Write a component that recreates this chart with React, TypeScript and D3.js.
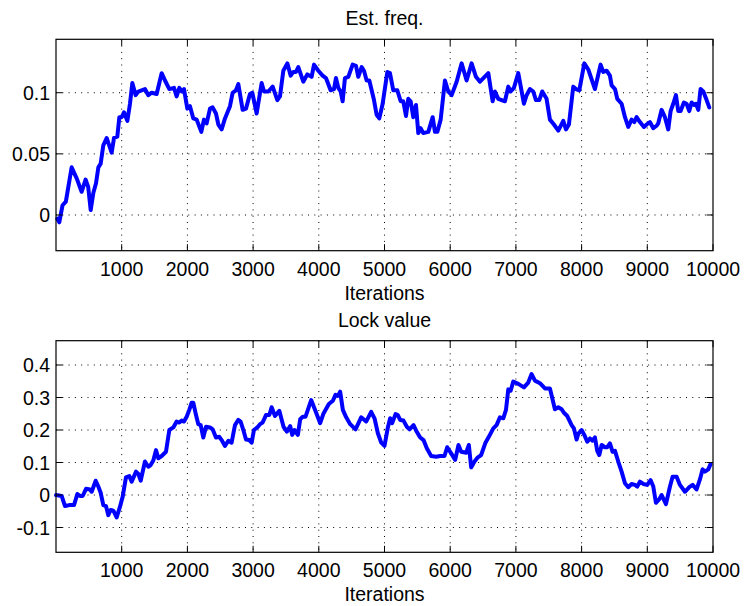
import React from "react";
import * as d3 from "d3";

const xTicks = [1000, 2000, 3000, 4000, 5000, 6000, 7000, 8000, 9000, 10000];
const freqTicks = [0, 0.05, 0.1];
const freqTickLabels = ["0", "0.05", "0.1"];
const lockTicks = [-0.1, 0, 0.1, 0.2, 0.3, 0.4];
const lockTickLabels = ["-0.1", "0", "0.1", "0.2", "0.3", "0.4"];

const freqIter = [
  20, 50, 100, 150, 238, 315, 390, 450, 490, 528, 568, 609, 645, 680, 720, 771, 847, 883, 933, 964,
  1000, 1035, 1086, 1126, 1162, 1212, 1253, 1354, 1405, 1456, 1532, 1608, 1659, 1725, 1796, 1836, 1877, 1913, 1948, 1999,
  2039, 2090, 2141, 2212, 2252, 2293, 2344, 2384, 2435, 2471, 2521, 2572, 2648, 2689, 2739, 2775, 2841, 2892, 2952, 2988,
  3054, 3130, 3166, 3232, 3298, 3369, 3409, 3460, 3521, 3572, 3612, 3653, 3688, 3764, 3825, 3891, 3927, 3993,
  4058, 4109, 4180, 4231, 4261, 4297, 4333, 4363, 4398, 4449, 4515, 4566, 4601, 4652, 4688, 4728, 4769, 4840, 4880, 4921, 4972,
  5043, 5083, 5134, 5195, 5246, 5286, 5327, 5362, 5398, 5438, 5479, 5514, 5550, 5590, 5667, 5733, 5768, 5804, 5855, 5920, 5971,
  6022, 6098, 6174, 6250, 6326, 6392, 6453, 6580, 6646, 6681, 6732, 6783, 6833, 6884, 6920, 6970,
  7036, 7122, 7163, 7214, 7264, 7305, 7356, 7401, 7467, 7518, 7579, 7645, 7721, 7762, 7807, 7873, 7914, 7965,
  8041, 8102, 8203, 8289, 8330, 8381, 8431, 8457, 8508, 8543, 8609, 8660, 8710, 8761, 8802, 8837, 8888, 8949, 8990,
  9040, 9091, 9142, 9167, 9218, 9268, 9319, 9355, 9395, 9436, 9471, 9507, 9557, 9598, 9639, 9674, 9710, 9740, 9776, 9811,
  9852, 9903, 9943,
];
const freqValue = [
  -0.003, -0.006, 0.008, 0.011, 0.039, 0.03, 0.019, 0.029, 0.023, 0.004, 0.018, 0.026, 0.039, 0.042, 0.057, 0.063, 0.051, 0.063, 0.064, 0.08,
  0.08, 0.084, 0.077, 0.091, 0.108, 0.098, 0.101, 0.103, 0.098, 0.1, 0.099, 0.116, 0.11, 0.103, 0.104, 0.097, 0.104, 0.101, 0.103, 0.087,
  0.089, 0.079, 0.078, 0.068, 0.078, 0.075, 0.087, 0.088, 0.083, 0.074, 0.07, 0.079, 0.089, 0.1, 0.102, 0.107, 0.086, 0.087, 0.099, 0.1,
  0.083, 0.108, 0.101, 0.101, 0.105, 0.094, 0.097, 0.118, 0.124, 0.114, 0.117, 0.117, 0.121, 0.109, 0.115, 0.113, 0.123, 0.118,
  0.114, 0.112, 0.102, 0.103, 0.112, 0.104, 0.101, 0.093, 0.112, 0.113, 0.123, 0.122, 0.113, 0.121, 0.118, 0.11, 0.11, 0.094, 0.082, 0.079, 0.091,
  0.117, 0.116, 0.102, 0.102, 0.093, 0.093, 0.081, 0.095, 0.093, 0.08, 0.09, 0.067, 0.071, 0.067, 0.068, 0.08, 0.068, 0.068, 0.078, 0.11, 0.101,
  0.098, 0.109, 0.124, 0.11, 0.124, 0.113, 0.109, 0.116, 0.093, 0.101, 0.095, 0.094, 0.093, 0.105, 0.101, 0.104,
  0.116, 0.091, 0.098, 0.103, 0.101, 0.094, 0.094, 0.101, 0.095, 0.078, 0.074, 0.069, 0.077, 0.07, 0.074, 0.105, 0.103, 0.102,
  0.124, 0.119, 0.103, 0.123, 0.117, 0.118, 0.114, 0.106, 0.103, 0.095, 0.091, 0.08, 0.072, 0.078, 0.076, 0.08, 0.076, 0.072, 0.074,
  0.076, 0.071, 0.073, 0.075, 0.086, 0.08, 0.07, 0.085, 0.091, 0.098, 0.085, 0.085, 0.092, 0.091, 0.085, 0.092, 0.09, 0.091, 0.086, 0.103,
  0.101, 0.094, 0.088,
];

const lockIter = [
  0, 86, 137, 203, 274, 325, 365, 406, 457, 517, 543, 604, 644, 680, 720, 761, 796, 832, 873, 923, 974,
  1015, 1065, 1116, 1152, 1218, 1253, 1289, 1354, 1405, 1441, 1481, 1522, 1557, 1608, 1674, 1725, 1786, 1836, 1877, 1913, 1948, 1989,
  2029, 2065, 2090, 2131, 2166, 2202, 2242, 2283, 2344, 2384, 2435, 2486, 2521, 2572, 2623, 2673, 2724, 2775, 2810, 2851, 2892, 2942, 2978,
  3013, 3064, 3105, 3145, 3196, 3247, 3282, 3333, 3399, 3463, 3514, 3565, 3595, 3630, 3681, 3717, 3757, 3798, 3884, 3960,
  4021, 4072, 4153, 4214, 4254, 4290, 4325, 4366, 4417, 4478, 4559, 4645, 4721, 4797, 4848, 4899, 4950, 5000,
  5051, 5086, 5117, 5168, 5203, 5239, 5289, 5340, 5381, 5442, 5482, 5543, 5594, 5644, 5710, 5787, 5847, 5913, 5954,
  6015, 6076, 6126, 6167, 6243, 6284, 6319, 6370, 6421, 6471, 6537, 6588, 6656, 6706, 6757, 6808, 6849, 6884, 6920, 6960,
  7036, 7122, 7188, 7239, 7290, 7366, 7442, 7518, 7594, 7645, 7696, 7731, 7782, 7848, 7883, 7924, 7949,
  8000, 8041, 8086, 8127, 8167, 8203, 8238, 8269, 8305, 8355, 8391, 8431, 8472, 8508, 8558, 8609, 8660, 8710, 8761, 8812, 8847, 8888, 8939, 8999,
  9050, 9091, 9131, 9182, 9218, 9284, 9345, 9385, 9446, 9497, 9573, 9639, 9690, 9750, 9801, 9842, 9877, 9928, 9963,
];
const lockValue = [
  0.0, -0.003, -0.034, -0.031, -0.031, 0.003, -0.003, -0.003, 0.019, 0.017, 0.01, 0.044, 0.026, 0.007, -0.031, -0.034, -0.062, -0.046, -0.048, -0.069, -0.036,
  -0.005, 0.054, 0.058, 0.041, 0.072, 0.065, 0.044, 0.103, 0.087, 0.092, 0.106, 0.138, 0.113, 0.12, 0.133, 0.2, 0.208, 0.226, 0.223, 0.229, 0.226, 0.241,
  0.262, 0.284, 0.284, 0.246, 0.218, 0.215, 0.177, 0.21, 0.208, 0.202, 0.177, 0.179, 0.169, 0.151, 0.167, 0.161, 0.215, 0.231, 0.226, 0.2, 0.171, 0.169, 0.161,
  0.2, 0.208, 0.218, 0.223, 0.246, 0.246, 0.27, 0.243, 0.259, 0.21, 0.195, 0.212, 0.185, 0.2, 0.185, 0.233, 0.241, 0.241, 0.292, 0.253,
  0.221, 0.251, 0.28, 0.29, 0.308, 0.305, 0.318, 0.262, 0.239, 0.218, 0.202, 0.239, 0.226, 0.256, 0.236, 0.19, 0.161, 0.151,
  0.208, 0.236, 0.221, 0.249, 0.246, 0.231, 0.229, 0.21, 0.202, 0.215, 0.198, 0.177, 0.169, 0.144, 0.12, 0.118, 0.12, 0.12, 0.147,
  0.128, 0.108, 0.154, 0.133, 0.13, 0.154, 0.085, 0.103, 0.116, 0.123, 0.161, 0.179, 0.205, 0.215, 0.239, 0.236, 0.262, 0.325, 0.321, 0.349,
  0.342, 0.331, 0.346, 0.372, 0.352, 0.344, 0.328, 0.328, 0.264, 0.27, 0.264, 0.253, 0.243, 0.215, 0.205, 0.171, 0.188,
  0.2, 0.185, 0.164, 0.174, 0.167, 0.177, 0.136, 0.123, 0.154, 0.147, 0.147, 0.159, 0.133, 0.136, 0.103, 0.072, 0.036, 0.024, 0.034, 0.031, 0.026, 0.041, 0.034, 0.031,
  0.046, 0.026, -0.024, -0.013, 0.0, -0.028, 0.026, 0.056, 0.056, 0.031, 0.01, 0.024, 0.031, 0.017, 0.048, 0.079, 0.072, 0.079, 0.095,
];

const FONT = "'Liberation Sans', Arial, Helvetica, sans-serif";
const FS = 19.5;

type PanelProps = {
  top: number;
  bottom: number;
  yDomain: [number, number];
  yTicks: number[];
  yLabels: string[];
  iters: number[];
  values: number[];
  title: string;
};

function Panel({ top, bottom, yDomain, yTicks, yLabels, iters, values, title }: PanelProps) {
  const left = 56;
  const right = 713;
  const x = d3.scaleLinear().domain([0, 10000]).range([left, right]);
  const y = d3.scaleLinear().domain(yDomain).range([bottom, top]);
  const pts: [number, number][] = iters.map((it, i) => [it, values[i]]);
  const line = d3
    .line<[number, number]>()
    .x((d) => x(d[0]))
    .y((d) => y(d[1]));
  const tl = 6.5;
  const grid = { stroke: "#000", strokeWidth: 1, strokeDasharray: "1 5.3" };
  return (
    <g>
      {xTicks.slice(0, -1).map((t) => (
        <line key={"gx" + t} x1={x(t)} x2={x(t)} y1={top} y2={bottom} {...grid} />
      ))}
      {yTicks.map((t) => (
        <line key={"gy" + t} x1={left} x2={right} y1={y(t)} y2={y(t)} {...grid} />
      ))}
      <path
        d={line(pts) || ""}
        fill="none"
        stroke="#0000ff"
        strokeWidth={4}
        strokeLinejoin="round"
        strokeLinecap="round"
      />
      <rect x={left} y={top} width={right - left} height={bottom - top} fill="none" stroke="#000" strokeWidth={1.2} />
      {xTicks.map((t) => (
        <g key={"tx" + t}>
          <line x1={x(t)} x2={x(t)} y1={bottom} y2={bottom - tl} stroke="#000" />
          <line x1={x(t)} x2={x(t)} y1={top} y2={top + tl} stroke="#000" />
          <text x={x(t)} y={bottom + 25} textAnchor="middle" fontFamily={FONT} fontSize={FS}>
            {t}
          </text>
        </g>
      ))}
      {yTicks.map((t, i) => (
        <g key={"ty" + t}>
          <line x1={left} x2={left + tl} y1={y(t)} y2={y(t)} stroke="#000" />
          <line x1={right} x2={right - tl} y1={y(t)} y2={y(t)} stroke="#000" />
          <text x={left - 6} y={y(t) + 7} textAnchor="end" fontFamily={FONT} fontSize={FS}>
            {yLabels[i]}
          </text>
        </g>
      ))}
      <text x={(left + right) / 2} y={top - 14} textAnchor="middle" fontFamily={FONT} fontSize={FS}>
        {title}
      </text>
      <text x={(left + right) / 2} y={bottom + 49} textAnchor="middle" fontFamily={FONT} fontSize={FS}>
        Iterations
      </text>
    </g>
  );
}

export default function App() {
  return (
    <svg
      width={744}
      height={606}
      viewBox="0 0 744 606"
      style={{ position: "fixed", left: 0, top: 0, background: "#fff" }}
    >
      <rect width={744} height={606} fill="#fff" />
      <Panel
        top={39.3}
        bottom={250.7}
        yDomain={[-0.0292, 0.1437]}
        yTicks={freqTicks}
        yLabels={freqTickLabels}
        iters={freqIter}
        values={freqValue}
        title="Est. freq."
      />
      <Panel
        top={340.7}
        bottom={552.3}
        yDomain={[-0.1763, 0.4748]}
        yTicks={lockTicks}
        yLabels={lockTickLabels}
        iters={lockIter}
        values={lockValue}
        title="Lock value"
      />
    </svg>
  );
}
